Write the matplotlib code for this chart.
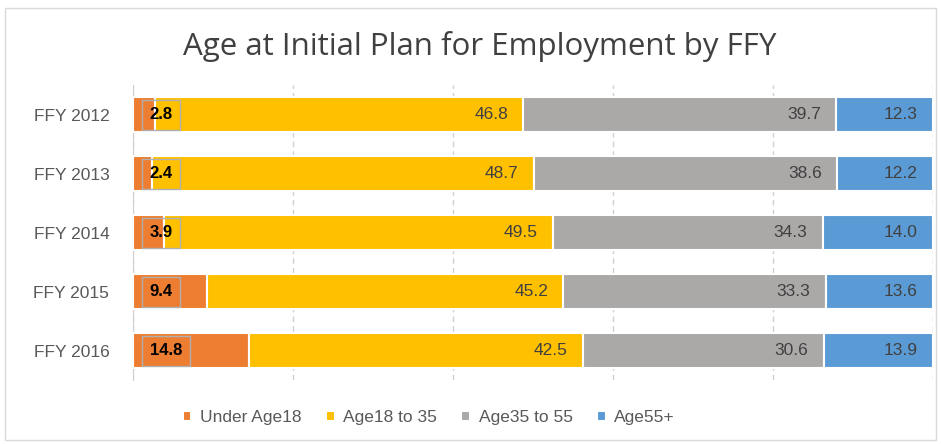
import matplotlib.pyplot as plt
from matplotlib.patches import Rectangle
import numpy as np

plt.rcParams['font.family'] = ['Liberation Sans', 'DejaVu Sans']

years = ["FFY 2012", "FFY 2013", "FFY 2014", "FFY 2015", "FFY 2016"]
under18 = [2.8, 2.4, 3.9, 9.4, 14.8]
age18_35 = [46.8, 48.7, 49.5, 45.2, 42.5]
age35_55 = [39.7, 38.6, 34.3, 33.3, 30.6]
age55 = [12.3, 12.2, 14.0, 13.6, 13.9]
series_names = ["Under Age18", "Age18 to 35", "Age35 to 55", "Age55+"]
colors = ["#ED7D31", "#FFC000", "#ABA8A8", "#5B9BD5"]

data = np.array([under18, age18_35, age35_55, age55])
totals = data.sum(axis=0)
shares = data / totals * 100  # 100% stacked

fig = plt.figure(figsize=(9.41, 4.44), dpi=100)
ax = fig.add_axes([0.1413, 0.144, 0.850, 0.6644])

# outer chart frame
fig.patches.append(Rectangle((0.005, 0.008), 0.99, 0.975, transform=fig.transFigure,
                             fill=False, edgecolor="#D9D9D9", linewidth=1))

y = np.arange(len(years))
left = np.zeros(len(years))
for i, name in enumerate(series_names):
    ax.barh(y, shares[i], left=left, height=0.58, color=colors[i],
            edgecolor="white", linewidth=1.5, label=name, zorder=3)
    for j in range(len(years)):
        val = data[i][j]
        if i == 0:
            ax.text(2.1, y[j], f"{val:.1f}", ha="left", va="center", fontsize=12,
                    fontweight="bold", color="black", zorder=4,
                    bbox=dict(boxstyle="square,pad=0.45", facecolor="none",
                              edgecolor="#B0B0B0", linewidth=1))
        else:
            ax.text(left[j] + shares[i][j] - 1.9, y[j], f"{val:.1f}", ha="right",
                    va="center", fontsize=12.5, color="#404040", zorder=4)
    left += shares[i]

ax.set_xlim(0, 100)
ax.set_ylim(4.5, -0.5)
ax.set_xticks(np.arange(0, 101, 20))
ax.set_xticklabels([])
ax.tick_params(axis="x", length=0)
ax.tick_params(axis="y", length=0, pad=17, labelsize=12.5, labelcolor="#595959")
ax.set_yticks(y)
ax.set_yticklabels(years)
ax.grid(axis="x", color="#D0D0D0", linestyle=(0, (4, 3)), linewidth=1, zorder=0)
for s in ["top", "right", "bottom"]:
    ax.spines[s].set_visible(False)
ax.spines["left"].set_color("#D0D0D0")

fig.text(0.51, 0.895, "Age at Initial Plan for Employment by FFY", ha="center",
         va="center", fontsize=22.5, color="#404040", family="Open Sans")

ax.legend(loc="upper center", bbox_to_anchor=(0.37, -0.05), ncol=4, frameon=False,
          fontsize=12.5, handlelength=0.5, handleheight=0.5, handletextpad=0.5,
          columnspacing=1.4, labelcolor="#595959")

fig.savefig("out.png", dpi=100)
